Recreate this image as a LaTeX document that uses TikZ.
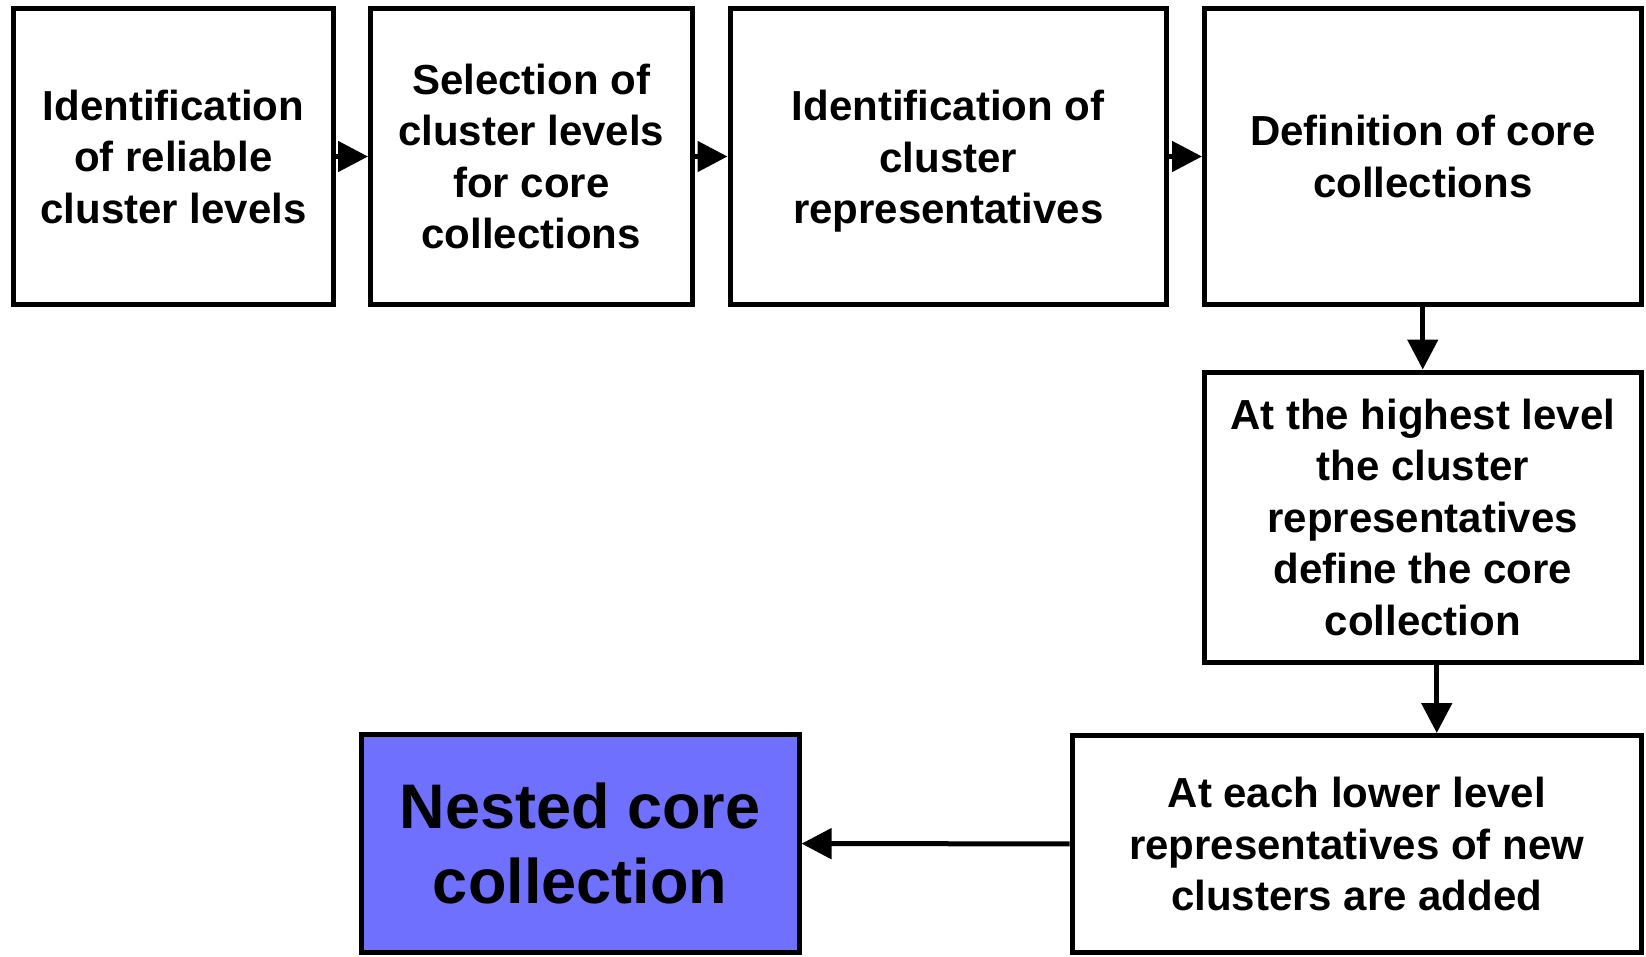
\documentclass[tikz,border=0pt]{standalone}
\usepackage{fontspec}
\setmainfont{Liberation Sans}
\usetikzlibrary{arrows.meta}
\definecolor{nestblue}{RGB}{112,112,255}
\tikzset{
  box/.style={draw=black, line width=5pt, fill=white, inner sep=0pt, align=center,
    font=\fontsize{42}{51.5}\selectfont\bfseries},
  conn/.style={line width=5pt, -{Triangle[length=30pt,width=30pt]}}
}
\begin{document}
\begin{tikzpicture}[x=1pt,y=-1pt]
\useasboundingbox (0,0) rectangle (1646,956);
\node[box, minimum width=320pt, minimum height=296pt] (b1) at (173.5,156.5)
  {Identification\\of reliable\\cluster levels};
\node[box, minimum width=321.5pt, minimum height=296pt] (b2) at (531.25,156.5)
  {Selection of\\cluster levels\\for core\\collections};
\node[box, minimum width=436.5pt, minimum height=296pt] (b3) at (948.25,156.5)
  {\rule{0pt}{40pt}Identification of\\cluster\\representatives};
\node[box, minimum width=436.5pt, minimum height=296pt] (b4) at (1422.75,156.5)
  {Definition of core\\collections};
\node[box, minimum width=436.5pt, minimum height=290.5pt] (b5) at (1422.75,517.25)
  {At the highest level\\the cluster\\representatives\\define the core\\collection};
\node[box, minimum width=569.5pt, minimum height=217pt] (b6) at (1356.75,844)
  {At each lower level\\representatives of new\\clusters are added};
\node[box, fill=nestblue, minimum width=438pt, minimum height=218pt,
  font=\fontsize{63}{74.5}\selectfont\bfseries] (b7) at (580,843.5)
  {Nested core\\collection};
\draw[conn] (b1) -- (b2);
\draw[conn] (b2) -- (b3);
\draw[conn] (b3) -- (b4);
\draw[conn] (b4) -- (b5);
\draw[conn] ([xshift=14pt]b5.south) -- ([xshift=14pt]b5.south |- b6.north);
\draw[conn] (b6) -- (b7);
\end{tikzpicture}
\end{document}
